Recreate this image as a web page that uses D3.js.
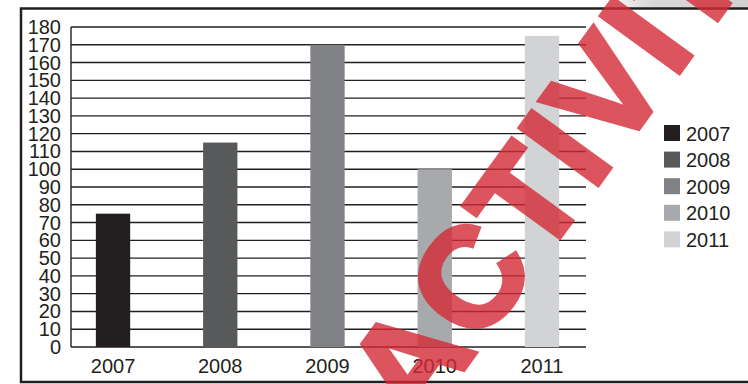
<!DOCTYPE html>
<html><head><meta charset="utf-8">
<script src="https://cdn.jsdelivr.net/npm/d3@7"></script>
<style>html,body{margin:0;padding:0;background:#fff;}svg{display:block;}</style>
</head><body>
<svg id="chart" width="748" height="384"></svg>
<script>
const categories = ["2007", "2008", "2009", "2010", "2011"];
const values = [75, 115, 170, 100, 175];
const colors = ["#231f20", "#58595b", "#808285", "#a7a9ac", "#d1d3d4"];
const yTicks = [0,10,20,30,40,50,60,70,80,90,100,110,120,130,140,150,160,170,180];
const watermark = "ACTIVITY";

const svg = d3.select("#chart");
const font = "'Liberation Sans', Arial, sans-serif";
const ink = "#231f20";

// subtle shadow at top right of the frame
const defs = svg.append("defs");
const grad = defs.append("linearGradient").attr("id", "shadow")
  .attr("x1", 0).attr("x2", 1).attr("y1", 0).attr("y2", 0);
grad.append("stop").attr("offset", 0).attr("stop-color", "#fff");
grad.append("stop").attr("offset", 0.35).attr("stop-color", "#c8c8c8");
grad.append("stop").attr("offset", 1).attr("stop-color", "#bdbdbd");
svg.append("rect").attr("x", 600).attr("y", 0).attr("width", 148).attr("height", 8)
  .attr("fill", "url(#shadow)").attr("opacity", 0.7);

// frame
svg.append("path")
  .attr("d", "M749,8.5 H21 V382 H749")
  .attr("fill", "none").attr("stroke", ink).attr("stroke-width", 2.5);

const y = d3.scaleLinear().domain([0, 180]).range([347, 27]);
const x = d3.scaleBand().domain(categories).range([59.4, 595.6])
  .paddingInner(0.68).paddingOuter(0.34);
const color = d3.scaleOrdinal().domain(categories).range(colors);

// gridlines
svg.append("g").selectAll("line").data(yTicks).join("line")
  .attr("x1", 71).attr("x2", 586)
  .attr("y1", d => y(d)).attr("y2", d => y(d))
  .attr("stroke", ink).attr("stroke-width", 1.4);

// y axis line
svg.append("line").attr("x1", 71).attr("x2", 71).attr("y1", y(180)).attr("y2", y(0))
  .attr("stroke", ink).attr("stroke-width", 1.4);

// y labels
svg.append("g").selectAll("text").data(yTicks).join("text")
  .attr("x", 61).attr("y", d => y(d) + 7)
  .attr("text-anchor", "end")
  .attr("font-family", font).attr("font-size", 20).attr("fill", ink)
  .text(d => d);

// bars
svg.append("g").selectAll("rect").data(categories).join("rect")
  .attr("x", d => x(d)).attr("width", x.bandwidth())
  .attr("y", (d, i) => y(values[i])).attr("height", (d, i) => y(0) - y(values[i]))
  .attr("fill", d => color(d));

// x labels
svg.append("g").selectAll("text").data(categories).join("text")
  .attr("x", d => x(d) + x.bandwidth() / 2).attr("y", 373)
  .attr("text-anchor", "middle")
  .attr("font-family", font).attr("font-size", 20).attr("fill", ink)
  .text(d => d);

// legend
const lg = svg.append("g").selectAll("g").data(categories).join("g")
  .attr("transform", (d, i) => `translate(664,${125 + i * 26.6})`);
lg.append("rect").attr("width", 16).attr("height", 16).attr("fill", d => color(d));
lg.append("text").attr("x", 22).attr("y", 15.5)
  .attr("font-family", font).attr("font-size", 20).attr("fill", ink)
  .text(d => d);

// watermark
svg.append("g").attr("opacity", 0.8)
  .append("text")
  .attr("transform", "translate(418,432) rotate(-54)")
  .attr("font-family", font).attr("font-weight", "bold").attr("font-size", 140)
  .attr("letter-spacing", 3)
  .attr("fill", "#d42a35").attr("stroke", "#d42a35").attr("stroke-width", 5)
  .attr("stroke-linejoin", "miter")
  .text(watermark);
</script>
</body></html>
